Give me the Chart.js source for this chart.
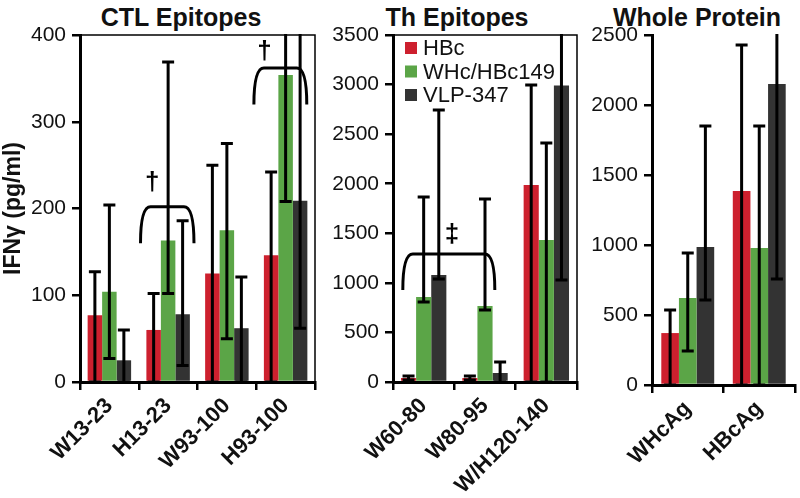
<!DOCTYPE html>
<html>
<head>
<meta charset="utf-8">
<script src="https://cdn.jsdelivr.net/npm/chart.js@4.4.0/dist/chart.umd.min.js"></script>
<style>
  body { margin: 0; background: #fff; }
  #wrap { position: relative; width: 800px; height: 498px; overflow: hidden; }
  canvas { position: absolute; top: 0; }
  .ttl { position: absolute; top: 2px; width: 240px; text-align: center;
         font: bold 25px 'Liberation Sans', Arial, sans-serif; color: #111; line-height: 30px; }
</style>
</head>
<body>
<div id="wrap">
  <div class="ttl" style="left:61px">CTL Epitopes</div>
  <div class="ttl" style="left:337px">Th Epitopes</div>
  <div class="ttl" style="left:577px">Whole Protein</div>
  <canvas id="c1" width="330" height="498" style="left:0"></canvas>
  <canvas id="c2" width="262" height="498" style="left:320px"></canvas>
  <canvas id="c3" width="215" height="498" style="left:585px"></canvas>
</div>
<script>
// series names / colours
const seriesNames = ['HBc', 'WHc/HBc149', 'VLP-347']
const colors = ['#cd202e', '#5ba547', '#333333']

// CTL epitopes
const ctlLabels = ['W13-23', 'H13-23', 'W93-100', 'H93-100']
const ctlHBc = [77, 60, 125, 146]
const ctlWHc = [104, 163, 175, 354]
const ctlVLP = [25, 78, 62, 209]
const ctlHBcErr = [[0, 127], [0, 102], [0, 250], [0, 242]]
const ctlWHcErr = [[27, 204], [102, 369], [50, 275], [208, 500]]
const ctlVLPErr = [[0, 60], [19, 186], [0, 121], [62, 500]]

// Th epitopes
const thLabels = ['W60-80', 'W80-95', 'W/H120-140']
const thHBc = [40, 40, 1987]
const thWHc = [857, 767, 1432]
const thVLP = [1079, 91, 2990]
const thHBcErr = [[20, 60], [20, 60], [0, 2996]]
const thWHcErr = [[807, 1866], [726, 1846], [0, 2411]]
const thVLPErr = [[1039, 2744], [0, 202], [1029, 4000]]

// whole protein
const wpLabels = ['WHcAg', 'HBcAg']
const wpHBc = [371, 1386]
const wpWHc = [621, 979]
const wpVLP = [986, 2150]
const wpHBcErr = [[0, 536], [0, 2429]]
const wpWHcErr = [[243, 943], [0, 1850]]
const wpVLPErr = [[607, 1850], [757, 3000]]

// significance brackets: from/to/markX in category units, top/foot/markY in data units
const ctlBrackets = [
  {from: 0.53, to: 1.44, top: 202, foot: 160, mark: '\u2020', markX: 0.73, markY: 230},
  {from: 2.46, to: 3.36, top: 362, foot: 320, mark: '\u2020', markX: 2.64, markY: 381}
]
const thBrackets = [
  {from: -0.34, to: 1.16, top: 1291, foot: 928, mark: '\u2021', markX: 0.46, markY: 1480}
]

const FONT = "'Liberation Sans', Arial, sans-serif"

const catX = (s, v) => s.getPixelForValue(0) + v * (s.getPixelForValue(1) - s.getPixelForValue(0))

function makeChart(id, labels, vals, errs, yMax, yStep, o) {
  const extras = {
    id: 'extras',
    afterDatasetsDraw(chart) {
      const {ctx, chartArea: a, scales: {x, y}} = chart
      ctx.save()
      ctx.beginPath()
      ctx.rect(a.left - 10, a.top - 1, a.width + 20, a.height + 2)
      ctx.clip()
      ctx.strokeStyle = '#000'
      ctx.lineWidth = 3
      chart.data.datasets.forEach((ds, i) => {
        chart.getDatasetMeta(i).data.forEach((el, j) => {
          const [lo, hi] = ds.err[j]
          const y1 = y.getPixelForValue(lo), y2 = y.getPixelForValue(hi)
          ctx.beginPath()
          ctx.moveTo(el.x, y1); ctx.lineTo(el.x, y2)
          ctx.moveTo(el.x - 6, y2); ctx.lineTo(el.x + 6, y2)
          ctx.moveTo(el.x - 6, y1); ctx.lineTo(el.x + 6, y1)
          ctx.stroke()
        })
      })
      ctx.restore()

      // box top/right
      if (o.box) {
        ctx.save()
        ctx.strokeStyle = '#000'
        ctx.lineWidth = 1.5
        ctx.beginPath()
        ctx.moveTo(a.left, a.top); ctx.lineTo(a.right, a.top); ctx.lineTo(a.right, a.bottom)
        ctx.stroke()
        ctx.restore()
      }

      // brackets
      ;(o.brackets || []).forEach(b => {
        const x1 = catX(x, b.from), x2 = catX(x, b.to)
        const yt = y.getPixelForValue(b.top), yf = y.getPixelForValue(b.foot)
        ctx.save()
        ctx.strokeStyle = '#000'
        ctx.lineWidth = 3
        ctx.beginPath()
        ctx.moveTo(x1, yf)
        ctx.quadraticCurveTo(x1, yt, x1 + 10, yt)
        ctx.lineTo(x2 - 10, yt)
        ctx.quadraticCurveTo(x2, yt, x2, yf)
        ctx.stroke()
        ctx.fillStyle = '#000'
        ctx.font = 'bold 26px ' + FONT
        ctx.textAlign = 'center'
        ctx.textBaseline = 'middle'
        ctx.fillText(b.mark, catX(x, b.markX), y.getPixelForValue(b.markY))
        ctx.restore()
      })

      // legend
      if (o.legend) {
        ctx.save()
        ctx.font = '22px ' + FONT
        ctx.textBaseline = 'middle'
        chart.data.datasets.forEach((ds, i) => {
          const cy = a.top + 13 + i * 23.5
          ctx.fillStyle = ds.backgroundColor
          ctx.fillRect(a.left + 12, cy - 6, 12, 12)
          ctx.fillStyle = '#111'
          ctx.fillText(ds.label, a.left + 30, cy + 1)
        })
        ctx.restore()
      }
    }
  }

  return new Chart(document.getElementById(id), {
    type: 'bar',
    data: {
      labels: labels,
      datasets: vals.map((v, i) => ({
        label: seriesNames[i],
        data: v,
        err: errs[i],
        backgroundColor: colors[i],
        borderWidth: 0,
        barPercentage: 1,
        categoryPercentage: 0.74
      }))
    },
    options: {
      responsive: false,
      animation: false,
      layout: {padding: {top: 35, right: o.right, left: 0, bottom: 0}},
      plugins: {legend: {display: false}, tooltip: {enabled: false}},
      scales: {
        x: {
          afterFit: s => { s.height = o.xh },
          border: {color: '#000', width: 3},
          grid: {offset: true, drawOnChartArea: false, tickLength: 8, lineWidth: 2.5, color: '#000'},
          ticks: {
            autoSkip: false, maxRotation: 45, minRotation: 45, padding: 3, color: '#111',
            font: {family: FONT, size: 22, weight: 'bold'}
          }
        },
        y: {
          min: 0, max: yMax,
          afterFit: s => { s.width = o.yw },
          border: {color: '#000', width: 3},
          grid: {drawOnChartArea: false, tickLength: 8, lineWidth: 2.5, color: '#000'},
          ticks: {stepSize: yStep, padding: 6, color: '#111', font: {family: FONT, size: 21},
                  callback: v => String(v)},
          title: {
            display: !!o.ytitle, text: o.ytitle, color: '#111', padding: {top: 0, bottom: 0},
            font: {family: FONT, size: 23, weight: 'bold'}
          }
        }
      }
    },
    plugins: [extras]
  })
}

makeChart('c1', ctlLabels, [ctlHBc, ctlWHc, ctlVLP], [ctlHBcErr, ctlWHcErr, ctlVLPErr], 400, 100,
  {yw: 80, right: 15, xh: 116, box: true, brackets: ctlBrackets, ytitle: 'IFN\u03b3 (pg/ml)'})
makeChart('c2', thLabels, [thHBc, thWHc, thVLP], [thHBcErr, thWHcErr, thVLPErr], 3500, 500,
  {yw: 73, right: 5, xh: 116, box: true, brackets: thBrackets, legend: true})
makeChart('c3', wpLabels, [wpHBc, wpWHc, wpVLP], [wpHBcErr, wpWHcErr, wpVLPErr], 2500, 500,
  {yw: 67, right: 5, xh: 113})
</script>
</body>
</html>
